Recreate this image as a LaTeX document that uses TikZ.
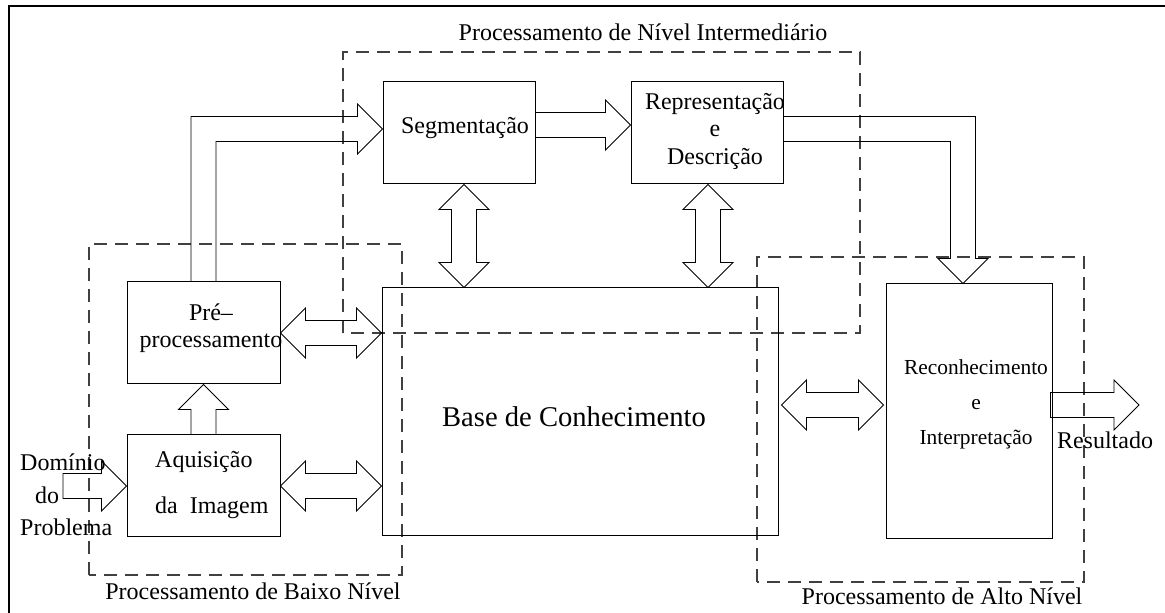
\documentclass[tikz,border=0pt]{standalone}
\usepackage{fontspec}
\setmainfont{Liberation Serif}
\usetikzlibrary{positioning,calc}

\tikzset{
	box/.style={draw, line width=1pt, inner sep=0pt},
	region/.style={draw=black!75, line width=1.1pt, dash pattern=on 13pt off 8pt},
	blockarrow/.style={draw, line width=0.9pt, line join=miter},
	lbl/.style={inner sep=0pt, font=\fontsize{24}{28}\selectfont}
}

\begin{document}
\begin{tikzpicture}[x=1pt,y=1pt]
				
				% geometry of the block arrows
				\def\tipl{25pt}     % head length
				\def\tipw{25pt}     % head half width
				\def\shaftw{12.5pt} % shaft half width
				
				% two-headed arrow, left tip #1, right tip at x of #2
				\newcommand{\dblarrowh}[2]{%
					\draw[blockarrow] let \p1=#1, \p2=#2 in
					(\x1,\y1) -- ++(\tipl,\tipw) -- ++(0,-\tipw+\shaftw) -- (\x2-\tipl,\y1+\shaftw) -- ++(0,\tipw-\shaftw)
					-- (\x2,\y1) -- ++(-\tipl,-\tipw) -- ++(0,\tipw-\shaftw) -- (\x1+\tipl,\y1-\shaftw) -- ++(0,-\tipw+\shaftw) -- cycle;
				}
				% two-headed arrow, lower tip at y of #1, upper tip #2
				\newcommand{\dblarrowv}[2]{%
					\draw[blockarrow] let \p1=#1, \p2=#2 in
					(\x2,\y1) -- ++(\tipw,\tipl) -- ++(-\tipw+\shaftw,0) -- (\x2+\shaftw,\y2-\tipl) -- ++(\tipw-\shaftw,0)
					-- (\x2,\y2) -- ++(-\tipw,-\tipl) -- ++(\tipw-\shaftw,0) -- (\x2-\shaftw,\y1+\tipl) -- ++(-\tipw+\shaftw,0) -- cycle;
				}
				% one head to the right, tail #2, tip at x of #3, #1 closes the tail
				\newcommand{\arrowh}[3][]{%
					\draw[blockarrow] let \p1=#2, \p2=#3 in
					(\x1,\y1+\shaftw) -- (\x2-\tipl,\y1+\shaftw) -- ++(0,\tipw-\shaftw) -- (\x2,\y1)
					-- ++(-\tipl,-\tipw) -- ++(0,\tipw-\shaftw) -- (\x1,\y1-\shaftw) #1;
				}
				% one head upwards, tail #1, tip at y of #2
				\newcommand{\arrowv}[2]{%
					\draw[blockarrow] let \p1=#1, \p2=#2 in
					(\x1-\shaftw,\y1) -- (\x1-\shaftw,\y2-\tipl) -- ++(-\tipw+\shaftw,0) -- (\x1,\y2)
					-- ++(\tipw,-\tipl) -- ++(-\tipw+\shaftw,0) -- (\x1+\shaftw,\y1);
				}
				
				\useasboundingbox (0,0) rectangle (1165,613);
				
				% frame
				\draw[line width=2.5pt] (9,-10) -- (9,607) -- (1180,607);
				
				% processing levels
				\draw[region] (89,38) rectangle (402,369);
				\draw[region] (343,280) rectangle (860,561);
				\draw[region] (757,31) rectangle (1084,356);
				\node[lbl, anchor=base] (lowlbl) at (253,13) {Processamento de Baixo Nível};
				\node[lbl, anchor=base] (midlbl) at (643,572) {Processamento de Nível Intermediário};
				\node[lbl, anchor=base] (highlbl) at (942,8) {Processamento de Alto Nível};
				
				% blocks
				\node[box, minimum width=153, minimum height=102] (pre) at (203.5,280) {};
				\node[box, minimum width=153, minimum height=102] (acq) at (203.5,127) {};
				\node[box, minimum width=152, minimum height=102] (seg) at (459,480) {};
				\node[box, minimum width=152, minimum height=102] (rep) at (707,480) {};
				\node[box, minimum width=396, minimum height=248] (base) at (580,201) {};
				\node[box, minimum width=166, minimum height=255] (rec) at (969,201.5) {};
				
				% texts of the blocks
				\node[lbl, align=center, font=\fontsize{24}{27}\selectfont] (pretxt) at (211,284.5) {Pré–\\processamento};
				\node[lbl, align=left, anchor=west] (acqtxt) at (155,127.6) {Aquisição\\[18pt]da\ \ Imagem};
				\node[lbl, anchor=base] (segtxt) at (465,479) {Segmentação};
				\node[lbl, align=center, font=\fontsize{24}{27.5}\selectfont] (reptxt) at (715,482) {Representação\\e\\Descrição};
				\node[lbl, anchor=base, font=\fontsize{28.6}{34}\selectfont] (basetxt) at (574,186) {Base de Conhecimento};
				\node[lbl, align=center, font=\fontsize{21.4}{35}\selectfont] (rectxt) at (976,209) {Reconhecimento\\e\\Interpretação};
				\node[lbl, align=left, anchor=west, font=\fontsize{24}{32.5}\selectfont] (domtxt) at (20,118) {Domínio\\\hspace*{15pt}do\\Problema};
				\node[lbl, anchor=base] (restxt) at (1105,164) {Resultado};
				
				% free ends
				\coordinate (domin) at (63,127);
				\coordinate (resout) at (1139,208);
				
				% arrows
				\arrowh[-- cycle]{(domin)}{(acq.west)}
				\arrowv{(acq.north)}{(pre.south)}
				\dblarrowh{(pre.east)}{(base.west)}
				\dblarrowh{(acq.east)}{(base.west)}
				\dblarrowh{([xshift=3pt,yshift=7pt]base.east)}{([xshift=-2pt]rec.west)}
				\dblarrowv{(base.north)}{([xshift=5pt]seg.south)}
				\dblarrowv{(base.north)}{([xshift=1pt]rep.south)}
				\arrowh{([yshift=8pt]seg.east)}{(rep.west)}
				\arrowh[-- cycle]{([xshift=-2pt,yshift=6.5pt]rec.east)}{(resout)}
				
				% bent arrows
				\draw[blockarrow] let \p1=(pre.north), \p2=([yshift=4pt]seg.west) in
				(\x1-\shaftw,\y1) |- (\x2-\tipl,\y2+\shaftw) -- ++(0,\tipw-\shaftw) -- (\x2,\y2)
				-- ++(-\tipl,-\tipw) -- ++(0,\tipw-\shaftw) -| (\x1+\shaftw,\y1);
				\draw[blockarrow] let \p1=([yshift=4pt]rep.east), \p2=([xshift=-6pt]rec.north) in
				(\x1,\y1+\shaftw) -| (\x2+\shaftw,\y2+\tipl) -- ++(\tipw-\shaftw,0) -- (\x2,\y2)
				-- ++(-\tipw,\tipl) -- ++(\tipw-\shaftw,0) |- (\x1,\y1-\shaftw);
				
\end{tikzpicture}
\end{document}
